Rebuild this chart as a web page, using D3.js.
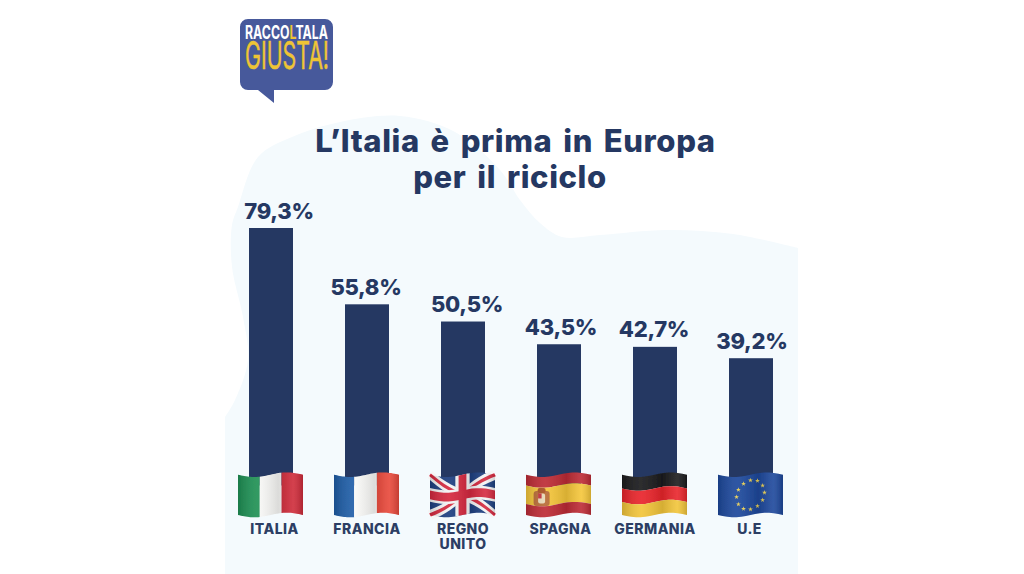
<!DOCTYPE html>
<html>
<head>
<meta charset="utf-8">
<script src="https://cdn.jsdelivr.net/npm/d3@7"></script>
<style>
    html, body { margin: 0; padding: 0; background: #fff; }
    svg { display: block; }
    text { font-family: Inter, "Noto Sans", sans-serif; }
</style>
</head>
<body>
<div id="graphic"></div>
<script>
// Data
var countries = ['ITALIA', 'FRANCIA', 'REGNO UNITO', 'SPAGNA', 'GERMANIA', 'U.E'];
var values = [79.3, 55.8, 50.5, 43.5, 42.7, 39.2];
var flags = ['it', 'fr', 'uk', 'es', 'de', 'eu'];
var titleLines = ['L\u2019Italia è prima in Europa', 'per il riciclo'];

// the labels are not centred on the bars in the original
var valueShift = [8, -1, 4, 2, -1, 1];
var nameShift = [3.5, 0, 0, 1.5, 0, -1.5];
var titleX = [515.5, 510];

var navy = '#253862';
var w = 1024, h = 574;

var svg = d3.select('#graphic').append('svg')
    .attr('width', w)
    .attr('height', h);
var defs = svg.append('defs');

// Scale
var xScale = d3.scaleBand()
    .domain(countries)
    .range([249, 773])
    .paddingInner(52 / 96)
    .paddingOuter(0);
var yScale = d3.scaleLinear()
    .domain([0, 79.3])
    .range([485.5, 228]);

// Background shape
var blob = [[225, 417], [235, 400], [248, 360], [243, 317], [232, 267], [232, 225], [238, 207], [258, 157], [292, 137],
    [340, 122], [400, 116], [455, 132], [500, 170], [520, 200], [540, 223], [562, 237], [600, 235],
    [667, 230], [733, 234], [798, 248]];
svg.append('path')
    .attr('d', d3.line().curve(d3.curveCatmullRom.alpha(0.5))(blob)
        + 'L798,574L225,574Z')
    .attr('fill', '#f4fafd');

// Bars
svg.selectAll('.bar')
    .data(values)
    .enter()
    .append('rect')
    .attr('class', 'bar')
    .attr('x', function (d, i) { return xScale(countries[i]); })
    .attr('y', function (d) { return yScale(d); })
    .attr('width', xScale.bandwidth())
    .attr('height', function (d) { return yScale(0) - yScale(d); })
    .attr('fill', navy);

// Value labels
svg.selectAll('.value')
    .data(values)
    .enter()
    .append('text')
    .attr('class', 'value')
    .attr('x', function (d, i) { return xScale(countries[i]) + xScale.bandwidth() / 2 + valueShift[i]; })
    .attr('y', function (d) { return yScale(d) - 9.5; })
    .attr('text-anchor', 'middle')
    .attr('font-size', 22)
    .attr('font-weight', 800)
    .attr('letter-spacing', -0.3)
    .attr('fill', navy)
    .text(function (d) { return String(d).replace('.', ',') + '%'; });

// Title
svg.selectAll('.title')
    .data(titleLines)
    .enter()
    .append('text')
    .attr('class', 'title')
    .attr('x', function (d, i) { return titleX[i]; })
    .attr('y', function (d, i) { return 152 + i * 36; })
    .attr('text-anchor', 'middle')
    .attr('font-size', 31)
    .attr('font-weight', 800)
    .attr('letter-spacing', 0.6)
    .attr('word-spacing', 3.5)
    .attr('fill', navy)
    .text(function (d) { return d; });

// Country labels
countries.forEach(function (name, i) {
    var cx = xScale(name) + xScale.bandwidth() / 2 + nameShift[i];
    var parts = name === 'REGNO UNITO' ? ['REGNO', 'UNITO'] : [name];
    parts.forEach(function (p, j) {
        svg.append('text')
            .attr('x', cx)
            .attr('y', 534 + j * 15)
            .attr('text-anchor', 'middle')
            .attr('font-size', 14)
            .attr('font-weight', 800)
            .attr('letter-spacing', 0.45)
            .attr('fill', '#2c3e64')
            .text(p);
    });
});

// Wavy flag: u, v in 0..1 on the cloth
var flagW = 65, flagTop = 474.7, flagH = 40.3;
function warp(u, v) {
    return [-flagW / 2 + flagW * u, flagTop + flagH * v + 2.3 * Math.sin(2 * Math.PI * u)];
}
function quad(u0, v0, u1, v1) {
    return poly([[u0, v0], [u1, v0], [u1, v1], [u0, v1]]);
}
// polygon in cloth coordinates, edges split so they follow the wave
function poly(pts) {
    var out = [];
    pts.forEach(function (p, i) {
        var q = pts[(i + 1) % pts.length];
        for (var k = 0; k < 14; k++) {
            out.push(warp(p[0] + (q[0] - p[0]) * k / 14, p[1] + (q[1] - p[1]) * k / 14));
        }
    });
    return 'M' + out.map(function (d) { return d[0].toFixed(2) + ',' + d[1].toFixed(2); }).join('L') + 'Z';
}

var shade = defs.append('linearGradient').attr('id', 'shade');
[[0, '#000', 0.16], [0.3, '#fff', 0.08], [0.62, '#000', 0.12], [0.85, '#fff', 0.1], [1, '#000', 0.16]].forEach(function (s) {
    shade.append('stop').attr('offset', s[0]).attr('stop-color', s[1]).attr('stop-opacity', s[2]);
});
defs.append('filter').attr('id', 'soft')
    .append('feGaussianBlur').attr('stdDeviation', 0.4);

function stripes(g, list) {
    list.forEach(function (s) {
        g.append('path').attr('d', quad(s[0], s[1], s[2], s[3])).attr('fill', s[4]);
    });
}

var drawFlag = {
    it: function (g) {
        stripes(g, [[0, 0, 0.335, 1, '#1f9155'], [0.335, 0, 0.67, 1, '#f9f9f7'], [0.67, 0, 1, 1, '#cf2b3a']]);
    },
    fr: function (g) {
        stripes(g, [[0, 0, 0.31, 1, '#1f5ea8'], [0.31, 0, 0.66, 1, '#fafaf8'], [0.66, 0, 1, 1, '#e8483a']]);
    },
    uk: function (g) {
        stripes(g, [[0, 0, 1, 1, '#1d3f80']]);
        var diag = function (a, b, t, color) {
            var dx = (b[0] - a[0]) * 65, dy = (b[1] - a[1]) * 40;
            var l = Math.sqrt(dx * dx + dy * dy);
            var nu = -dy / l * t / 65, nv = dx / l * t / 40;
            g.append('path')
                .attr('d', poly([[a[0] + nu, a[1] + nv], [b[0] + nu, b[1] + nv], [b[0] - nu, b[1] - nv], [a[0] - nu, a[1] - nv]]))
                .attr('fill', color);
        };
        diag([0, 0], [1, 1], 4.5, '#f5f5f5');
        diag([0, 1], [1, 0], 4.5, '#f5f5f5');
        diag([0, 0], [1, 1], 1.6, '#d5293f');
        diag([0, 1], [1, 0], 1.6, '#d5293f');
        stripes(g, [[0.39, 0, 0.61, 1, '#f5f5f5'], [0, 0.33, 1, 0.67, '#f5f5f5'],
            [0.44, 0, 0.56, 1, '#d5293f'], [0, 0.39, 1, 0.61, '#d5293f']]);
    },
    es: function (g) {
        stripes(g, [[0, 0, 1, 0.27, '#bd2b35'], [0, 0.27, 1, 0.73, '#f5c63a'], [0, 0.73, 1, 1, '#bd2b35']]);
        // stemma
        var p = warp(0.24, 0.52);
        g.append('rect').attr('x', p[0] - 8).attr('y', p[1] - 7).attr('width', 16).attr('height', 15).attr('rx', 3).attr('fill', '#b86a35');
        g.append('rect').attr('x', p[0] - 4).attr('y', p[1] - 10).attr('width', 8).attr('height', 5).attr('rx', 2).attr('fill', '#a8501f');
        g.append('rect').attr('x', p[0] - 3.5).attr('y', p[1] - 4.5).attr('width', 7).attr('height', 10).attr('rx', 2).attr('fill', '#e8d9b8');
        g.append('rect').attr('x', p[0] - 3.5).attr('y', p[1] - 4.5).attr('width', 3.5).attr('height', 5).attr('fill', '#c4303a');
    },
    de: function (g) {
        stripes(g, [[0, 0, 1, 0.34, '#1b1b1d'], [0, 0.34, 1, 0.68, '#e9252b'], [0, 0.68, 1, 1, '#f2c53a']]);
    },
    eu: function (g) {
        stripes(g, [[0, 0, 1, 1, '#1d489c']]);
        d3.range(12).forEach(function (k) {
            var a = k * Math.PI / 6;
            var p = warp(0.5 + 0.215 * Math.cos(a), 0.5 + 0.36 * Math.sin(a));
            g.append('path')
                .attr('d', d3.symbol().type(d3.symbolStar).size(7)())
                .attr('transform', 'translate(' + p[0] + ',' + p[1] + ')')
                .attr('fill', '#e8cf55');
        });
    }
};

// Flags under the bars
flags.forEach(function (f, i) {
    var g = svg.append('g')
        .attr('transform', 'translate(' + (xScale(countries[i]) + xScale.bandwidth() / 2 - 0.5) + ',0)')
        .attr('filter', 'url(#soft)');
    drawFlag[f](g);
    g.append('path').attr('d', quad(0, 0, 1, 1)).attr('fill', 'url(#shade)');
});

// Logo
var logo = svg.append('g');
logo.append('path')
    .attr('d', 'M248,19H325a8,8 0 0 1 8,8V82a8,8 0 0 1 -8,8H274V103L258,90H248a8,8 0 0 1 -8,-8V27a8,8 0 0 1 8,-8Z')
    .attr('fill', '#47599b');
var logoLine = logo.append('text')
    .attr('x', 245)
    .attr('y', 39)
    .attr('font-size', 18.5)
    .attr('font-weight', 700)
    .attr('font-family', '"Liberation Sans Narrow", "Liberation Sans", sans-serif')
    .attr('textLength', 83)
    .attr('lengthAdjust', 'spacingAndGlyphs')
    .attr('fill', '#fff');
logoLine.append('tspan').text('RACCO');
logoLine.append('tspan').attr('fill', '#eec435').text('L');
logoLine.append('tspan').text('TALA');
logo.append('text')
    .attr('x', 245)
    .attr('y', 69)
    .attr('font-size', 38)
    .attr('font-weight', 400)
    .attr('font-family', '"Liberation Sans Narrow", "Liberation Sans", sans-serif')
    .attr('textLength', 84)
    .attr('lengthAdjust', 'spacingAndGlyphs')
    .attr('fill', '#eec435')
    .attr('stroke', '#eec435')
    .attr('stroke-width', 0.5)
    .text('GIUSTA!');
</script>
</body>
</html>
